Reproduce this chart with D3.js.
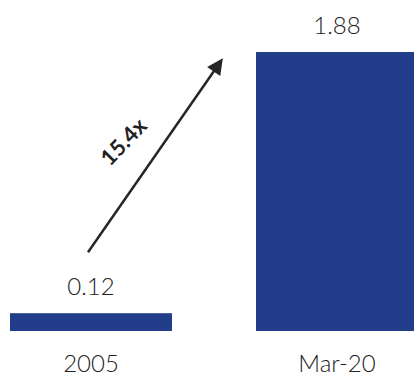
<!DOCTYPE html>
<html>
<head>
<meta charset="utf-8">
<script src="https://cdn.jsdelivr.net/npm/d3@7"></script>
<style>
  html, body { margin: 0; padding: 0; background: #fff; }
  svg { display: block; }
</style>
</head>
<body>
<svg id="chart" width="414" height="378"></svg>
<script>
// Values in the chart
const categories = ["2005", "Mar-20"];
const values = [0.12, 1.88];
const valueLabels = ["0.12", "1.88"];
const growthLabel = "15.4x";

const svg = d3.select("#chart");

const x = d3.scaleBand()
  .domain(categories)
  .range([10, 418])
  .paddingInner(84 / 246)
  .paddingOuter(0);

const y = d3.scaleLinear()
  .domain([0, d3.max(values)])
  .range([331, 52]);

const barColor = "#223d8a";
const textColor = "#222";
const font = "Lato, 'Noto Sans', sans-serif";

// Bars
svg.selectAll("rect.bar")
  .data(categories)
  .join("rect")
  .attr("class", "bar")
  .attr("x", d => x(d))
  .attr("width", x.bandwidth())
  .attr("y", (d, i) => y(values[i]))
  .attr("height", (d, i) => y(0) - y(values[i]))
  .attr("fill", barColor);

// Value labels above bars
svg.selectAll("text.value")
  .data(categories)
  .join("text")
  .attr("class", "value")
  .attr("x", d => x(d) + x.bandwidth() / 2)
  .attr("y", (d, i) => y(values[i]) - 18)
  .attr("text-anchor", "middle")
  .attr("font-family", font)
  .attr("font-weight", 300)
  .attr("font-size", 24)
  .attr("fill", textColor)
  .text((d, i) => valueLabels[i]);

// Category labels under the baseline
svg.selectAll("text.cat")
  .data(categories)
  .join("text")
  .attr("class", "cat")
  .attr("x", d => x(d) + x.bandwidth() / 2)
  .attr("y", y(0) + 41)
  .attr("text-anchor", "middle")
  .attr("font-family", font)
  .attr("font-weight", 300)
  .attr("font-size", 24)
  .attr("fill", textColor)
  .text(d => d);

// Growth arrow from the first bar toward the second
const defs = svg.append("defs");
defs.append("marker")
  .attr("id", "head")
  .attr("viewBox", "0 0 10 10")
  .attr("refX", 8)
  .attr("refY", 5)
  .attr("markerUnits", "userSpaceOnUse")
  .attr("markerWidth", 18)
  .attr("markerHeight", 16)
  .attr("orient", "auto")
  .append("path")
  .attr("d", "M0,0 L10,5 L0,10 Z")
  .attr("fill", "#262626");

const x0 = x(categories[0]) + x.bandwidth() / 2 - 3;
const y0 = y(values[0]) - 61;
const x1 = x(categories[1]) - 35;
const y1 = y(values[1]) + 9;

svg.append("line")
  .attr("x1", x0).attr("y1", y0)
  .attr("x2", x1).attr("y2", y1)
  .attr("stroke", "#262626")
  .attr("stroke-width", 2.5)
  .attr("marker-end", "url(#head)");

svg.append("text")
  .attr("transform", `translate(${x0 + 35},${y0 - 111}) rotate(-46)`)
  .attr("text-anchor", "middle")
  .attr("dominant-baseline", "central")
  .attr("font-family", font)
  .attr("font-weight", "bold")
  .attr("font-size", 22)
  .attr("fill", textColor)
  .text(growthLabel);
</script>
</body>
</html>
